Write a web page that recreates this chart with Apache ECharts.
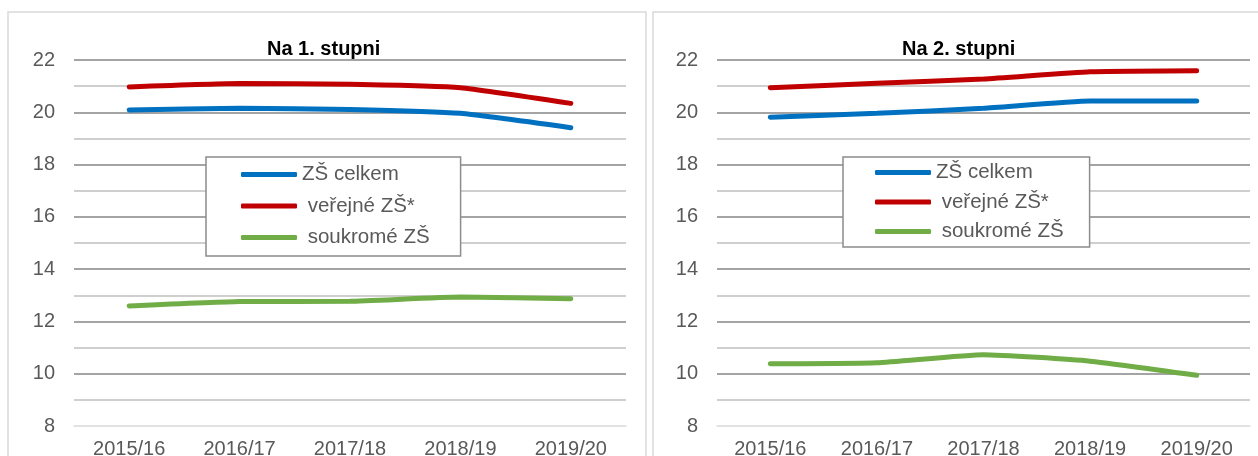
<!DOCTYPE html>
<html>
<head>
<meta charset="utf-8">
<script src="https://cdn.jsdelivr.net/npm/echarts@6/dist/echarts.min.js"></script>
<style>
  html, body { margin: 0; padding: 0; background: #fff; }
  #chart { width: 1258px; height: 456px; }
</style>
</head>
<body>
<div id="chart"></div>
<script>
// data
const years = ['2015/16', '2016/17', '2017/18', '2018/19', '2019/20']
const seriesNames = ['ZŠ celkem', 'veřejné ZŠ*', 'soukromé ZŠ']
const stupen1Celkem = [20.09, 20.15, 20.11, 19.96, 19.41]
const stupen1Verejne = [20.97, 21.10, 21.07, 20.94, 20.34]
const stupen1Soukrome = [12.59, 12.76, 12.77, 12.93, 12.87]
const stupen2Celkem = [19.81, 19.96, 20.15, 20.43, 20.43]
const stupen2Verejne = [20.94, 21.11, 21.27, 21.55, 21.59]
const stupen2Soukrome = [10.38, 10.42, 10.73, 10.48, 9.94]

const colors = ['#0070c0', '#c00000', '#70ad47']
const font = 'Liberation Sans, Arial, sans-serif'

let chart = echarts.init(document.getElementById('chart'))

function yAxis(gridIndex) {
  return {
    type: 'value',
    gridIndex: gridIndex,
    min: 8,
    max: 22,
    interval: 1,
    axisLine: { show: false },
    axisTick: { show: false },
    axisLabel: {
      margin: 19,
      fontSize: 20,
      fontFamily: font,
      color: '#595959',
      formatter: v => (v % 2 === 0 ? String(v) : '')
    },
    splitLine: {
      showMinLine: false,
      lineStyle: { color: ['#bfbfbf', '#868686'], width: 1.5 }
    }
  }
}

function xAxis(gridIndex) {
  return {
    type: 'category',
    gridIndex: gridIndex,
    data: years,
    axisLine: { lineStyle: { color: '#d9d9d9', width: 1.5 } },
    axisTick: { show: false },
    axisLabel: { margin: 13, fontSize: 20, fontFamily: font, color: '#595959' }
  }
}

function line(name, data, i, idx) {
  return {
    name: name,
    type: 'line',
    xAxisIndex: idx,
    yAxisIndex: idx,
    data: data,
    smooth: 0.15,
    symbol: 'none',
    lineStyle: { color: colors[i], width: 5, cap: 'round' },
    itemStyle: { color: colors[i] }
  }
}

function legend(left, gap, pad) {
  return {
    orient: 'vertical',
    left: left,
    top: 157,
    data: seriesNames,
    icon: 'roundRect',
    itemWidth: 56,
    itemHeight: 5,
    itemGap: gap,
    padding: pad,
    backgroundColor: '#fff',
    borderColor: '#8c8c8c',
    borderWidth: 1.5,
    selectedMode: false,
    formatter: name => (name === seriesNames[0] ? name : ' ' + name),
    textStyle: { fontSize: 20.5, lineHeight: 20, fontFamily: font, color: '#595959' }
  }
}

let option = {
  animation: false,
  backgroundColor: '#fff',
  graphic: [
    { type: 'rect', shape: { x: 8, y: 12, width: 638, height: 470 }, style: { fill: 'none', stroke: '#d9d9d9', lineWidth: 1.5 }, z: -1 },
    { type: 'rect', shape: { x: 653, y: 12, width: 640, height: 470 }, style: { fill: 'none', stroke: '#d9d9d9', lineWidth: 1.5 }, z: -1 }
  ],
  title: [
    { text: 'Na 1. stupni', left: 262, top: 34, textStyle: { fontSize: 20, fontWeight: 'bold', fontFamily: font, color: '#000' } },
    { text: 'Na 2. stupni', left: 897, top: 34, textStyle: { fontSize: 20, fontWeight: 'bold', fontFamily: font, color: '#000' } }
  ],
  legend: [
    legend(206, 10.5, [7, 31, 8, 35]),
    legend(843, 8.5, [5, 26, 5, 32])
  ],
  grid: [
    { left: 74, top: 60, width: 552, height: 366, outerBoundsMode: 'none' },
    { left: 717, top: 60, width: 533, height: 366, outerBoundsMode: 'none' }
  ],
  xAxis: [xAxis(0), xAxis(1)],
  yAxis: [yAxis(0), yAxis(1)],
  series: [
    line(seriesNames[0], stupen1Celkem, 0, 0),
    line(seriesNames[1], stupen1Verejne, 1, 0),
    line(seriesNames[2], stupen1Soukrome, 2, 0),
    line(seriesNames[0], stupen2Celkem, 0, 1),
    line(seriesNames[1], stupen2Verejne, 1, 1),
    line(seriesNames[2], stupen2Soukrome, 2, 1)
  ]
}
chart.setOption(option)
</script>
</body>
</html>
